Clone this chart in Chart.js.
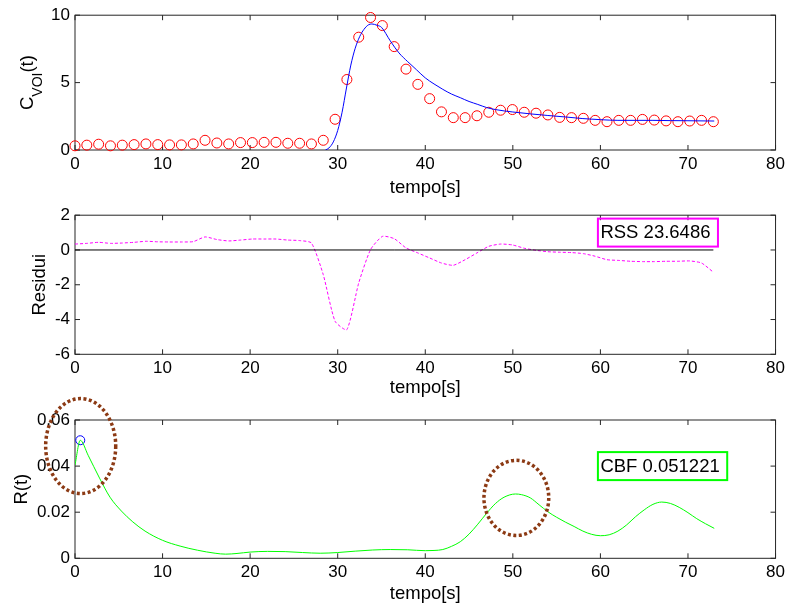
<!DOCTYPE html>
<html>
<head>
<meta charset="utf-8">
<title>CBF - ajuste e resíduos</title>
<script src="https://cdn.jsdelivr.net/npm/chart.js@4/dist/chart.umd.min.js"></script>
<style>
  body { margin: 0; background: #fff; }
  canvas { position: absolute; left: 0; }
</style>
</head>
<body>
<canvas id="g-cvoi" width="789" height="200" style="top:0"></canvas>
<canvas id="g-res" width="789" height="200" style="top:200px"></canvas>
<!-- começa antes do fim do painel 2: a elipse do pico passa acima da caixa -->
<canvas id="g-r" width="789" height="224" style="top:385px"></canvas>
<script>
/* Três painéis empilhados: curva C_VOI(t), resíduos do ajuste e R(t). */

// Instantes de amostragem (s)
const tAmostras = [0, 1.35, 2.7, 4.05, 5.4, 6.75, 8.1, 9.45, 10.8, 12.15, 13.5, 14.85, 16.2, 17.55,
  18.9, 20.25, 21.6, 22.95, 24.3, 25.65, 27.0, 28.35, 29.7, 31.05, 32.4, 33.75, 35.1, 36.45, 37.8,
  39.15, 40.5, 41.85, 43.2, 44.55, 45.9, 47.25, 48.6, 49.95, 51.3, 52.65, 54.0, 55.35, 56.7, 58.05,
  59.4, 60.75, 62.1, 63.45, 64.8, 66.15, 67.5, 68.85, 70.2, 71.55, 72.9];
// C_VOI medido (círculos vermelhos)
const cvoi = [0.31, 0.36, 0.43, 0.31, 0.36, 0.40, 0.45, 0.40, 0.38, 0.38, 0.45, 0.72, 0.52, 0.45,
  0.55, 0.55, 0.57, 0.57, 0.50, 0.50, 0.45, 0.72, 2.28, 5.23, 8.37, 9.83, 9.23, 7.67, 6.00,
  4.87, 3.81, 2.83, 2.40, 2.40, 2.54, 2.80, 2.95, 3.00, 2.80, 2.73, 2.60, 2.42, 2.40, 2.35,
  2.20, 2.10, 2.20, 2.20, 2.27, 2.22, 2.16, 2.10, 2.15, 2.20, 2.10];
// Curva ajustada (linha azul)
const fitT = [28.6, 29.0, 29.5, 30.0, 30.5, 31.0, 31.5, 32.0, 32.5, 33.0, 33.5, 33.9, 34.5, 35.0,
  36.0, 37.0, 38.0, 39.0, 40.0, 41.0, 42.0, 43.0, 44.0, 45.0, 46.0, 47.0, 48.0, 50.0, 52.0, 54.0,
  56.0, 58.0, 60.0, 62.0, 64.0, 66.0, 68.0, 70.0, 73.0];
const fitY = [0, 0.15, 0.6, 1.45, 2.8, 4.6, 6.3, 7.55, 8.4, 8.95, 9.28, 9.35, 9.25, 9.1,
  8.1, 7.2, 6.55, 5.95, 5.35, 4.9, 4.5, 4.15, 3.88, 3.6, 3.38, 3.15, 3.0, 2.82, 2.68, 2.56,
  2.45, 2.33, 2.25, 2.2, 2.2, 2.2, 2.18, 2.17, 2.15];
// Resíduos (tracejado magenta), nos mesmos instantes
const residui = [0.34, 0.38, 0.44, 0.38, 0.40, 0.44, 0.50, 0.47, 0.46, 0.46, 0.48, 0.75, 0.60, 0.52,
  0.57, 0.63, 0.63, 0.63, 0.57, 0.54, 0.40, -1.42, -4.10, -4.58, -1.90, 0.02, 0.78, 0.65, 0.12,
  -0.17, -0.46, -0.75, -0.88, -0.56, -0.17, 0.21, 0.34, 0.29, 0.10, -0.02, -0.10, -0.13, -0.15, -0.21,
  -0.36, -0.56, -0.60, -0.65, -0.67, -0.67, -0.65, -0.65, -0.63, -0.75, -1.28];
const zeroT = [0, 72.9];
const zeroY = [0, 0];
// R(t) (linha verde)
const rT = [0, 0.6, 1.5, 2.8, 4, 5.3, 6.6, 8, 10, 12, 14, 16, 17.2, 18.5, 20, 22, 24, 26, 28, 30,
  32, 34, 36, 38, 40, 41, 42, 43, 44, 45, 46, 47, 48, 49, 50.3, 51, 52, 53, 54, 55, 56, 57, 58, 59,
  60, 61, 62, 63, 64, 65, 66, 67, 68, 69, 70, 71, 72, 73];
const rY = [0.0405, 0.0512, 0.0447, 0.0348, 0.0265, 0.0205, 0.0158, 0.0118, 0.0078, 0.0053, 0.0035,
  0.0022, 0.0018, 0.0021, 0.0027, 0.003, 0.0029, 0.0025, 0.0022, 0.0025, 0.0031, 0.0036, 0.0038,
  0.0037, 0.0033, 0.0034, 0.0038, 0.0052, 0.0072, 0.0105, 0.0148, 0.0195, 0.0237, 0.0265, 0.0279,
  0.0276, 0.0262, 0.0232, 0.0202, 0.0178, 0.0157, 0.0138, 0.0118, 0.0104, 0.0098, 0.0102, 0.0118,
  0.0145, 0.018, 0.021, 0.0234, 0.0244, 0.0238, 0.0221, 0.0198, 0.0172, 0.015, 0.013];
// Pico de R(t) marcado com círculo azul
const picoT = [0.6];
const picoY = [0.051221];

// Marcas dos eixos
const xTicks = [0, 10, 20, 30, 40, 50, 60, 70, 80];
const yTicksCvoi = [0, 5, 10];
const yTicksRes = [-6, -4, -2, 0, 2];
const yTicksR = [0, 0.02, 0.04, 0.06];

const FONTE = "'Liberation Sans', Arial, Helvetica, sans-serif";

function pts(xs, ys) {
  return xs.map((v, i) => ({ x: v, y: ys[i] }));
}

// Caixa estilo MATLAB: moldura + marcas para dentro nos quatro lados
const moldura = {
  id: 'moldura',
  beforeDatasetsDraw(chart) {
    const { ctx, chartArea: a, scales: { x, y } } = chart;
    ctx.save();
    ctx.strokeStyle = '#262626';
    ctx.lineWidth = 1;
    ctx.strokeRect(a.left, a.top, a.right - a.left, a.bottom - a.top);
    ctx.beginPath();
    x.ticks.forEach(t => {
      const px = x.getPixelForValue(t.value);
      ctx.moveTo(px, a.bottom); ctx.lineTo(px, a.bottom - 5);
      ctx.moveTo(px, a.top); ctx.lineTo(px, a.top + 5);
    });
    y.ticks.forEach(t => {
      const py = y.getPixelForValue(t.value);
      ctx.moveTo(a.left, py); ctx.lineTo(a.left + 5, py);
      ctx.moveTo(a.right, py); ctx.lineTo(a.right - 5, py);
    });
    ctx.stroke();
    ctx.restore();
  },
};

// Rótulo vertical do eixo y, com pedaços em tamanhos/deslocamentos diferentes (subscrito)
function rotuloY(baseX, partes) {
  return {
    id: 'rotuloY',
    afterDraw(chart) {
      const { ctx, chartArea: a } = chart;
      ctx.save();
      ctx.translate(baseX, (a.top + a.bottom) / 2);
      ctx.rotate(-Math.PI / 2);
      const larg = partes.map(p => { ctx.font = `${p.tam}px ${FONTE}`; return ctx.measureText(p.txt).width; });
      let cx = -larg.reduce((s, w) => s + w, 0) / 2;
      ctx.fillStyle = '#000';
      ctx.textBaseline = 'alphabetic';
      partes.forEach((p, i) => {
        ctx.font = `${p.tam}px ${FONTE}`;
        ctx.fillText(p.txt, cx, p.desl || 0);
        cx += larg[i];
      });
      ctx.restore();
    },
  };
}

// Texto com moldura colorida (RSS / CBF) e elipses pontilhadas
function anotacoes(caixa, elipses) {
  return {
    id: 'anotacoes',
    afterDraw(chart) {
      const { ctx, scales: { x, y } } = chart;
      ctx.save();
      (elipses || []).forEach(e => {
        const cx = x.getPixelForValue(e.x), cy = y.getPixelForValue(e.y);
        const rx = x.getPixelForValue(e.x + e.rx) - cx;
        const ry = cy - y.getPixelForValue(e.y + e.ry);
        ctx.beginPath();
        ctx.ellipse(cx, cy, rx, ry, 0, 0, Math.PI * 2);
        ctx.strokeStyle = '#8c3a14';
        ctx.lineWidth = 3.5;
        ctx.setLineDash([3, 2.5]);
        ctx.stroke();
      });
      ctx.setLineDash([]);
      if (caixa) {
        ctx.font = `18.5px ${FONTE}`;
        const w = ctx.measureText(caixa.texto).width;
        const px = x.getPixelForValue(caixa.x), py = y.getPixelForValue(caixa.y);
        ctx.strokeStyle = caixa.cor;
        ctx.lineWidth = 2;
        ctx.strokeRect(px - 2.5, py - 14, w + 10, 28);
        ctx.fillStyle = '#000';
        ctx.textBaseline = 'middle';
        ctx.fillText(caixa.texto, px, py + 0.5);
      }
      ctx.restore();
    },
  };
}

function eixos(cfg) {
  const fonteTick = { family: FONTE, size: 17 };
  return {
    x: {
      type: 'linear', min: 0, max: 80,
      afterBuildTicks: s => { s.ticks = xTicks.map(v => ({ value: v })); },
      afterFit: s => { s.height = cfg.altX; },
      grid: { display: false, drawTicks: false },
      border: { display: false },
      ticks: { font: fonteTick, color: '#000', padding: 4, maxRotation: 0, autoSkip: false, callback: v => String(v) },
      title: {
        display: true, text: 'tempo[s]', color: '#000',
        font: { family: FONTE, size: 18.5 },
        padding: { top: 0, bottom: cfg.padTitulo },
      },
    },
    y: {
      type: 'linear', min: cfg.yMin, max: cfg.yMax,
      afterBuildTicks: s => { s.ticks = cfg.yTicks.map(v => ({ value: v })); },
      afterFit: s => { s.width = 75; },
      grid: { display: false, drawTicks: false },
      border: { display: false },
      ticks: { font: fonteTick, color: '#000', padding: 5, callback: v => String(v) },
    },
  };
}

function opcoes(cfg) {
  return {
    responsive: false,
    animation: false,
    events: [],
    layout: { padding: { top: cfg.topo, right: 11.5, bottom: 0, left: 0 } },
    plugins: { legend: { display: false }, tooltip: { enabled: false } },
    scales: eixos(cfg),
  };
}

// Painel 1: C_VOI(t)
new Chart(document.getElementById('g-cvoi'), {
  type: 'line',
  data: {
    datasets: [
      {
        data: pts(fitT, fitY), borderColor: '#0000ff', borderWidth: 1,
        pointRadius: 0, cubicInterpolationMode: 'monotone',
      },
      {
        data: pts(tAmostras, cvoi), showLine: false, clip: false,
        pointRadius: 5, pointBorderWidth: 1,
        pointBorderColor: '#ff0000', pointBackgroundColor: 'rgba(0,0,0,0)',
      },
    ],
  },
  options: opcoes({ topo: 11, altX: 50, padTitulo: 1.4, yMin: 0, yMax: 10, yTicks: yTicksCvoi }),
  plugins: [moldura, rotuloY(33.3, [
    { txt: 'C', tam: 18.5 },
    { txt: 'VOI', tam: 14, desl: 8.5 },
    { txt: '(t)', tam: 18.5 },
  ])],
});

// Painel 2: resíduos
new Chart(document.getElementById('g-res'), {
  type: 'line',
  data: {
    datasets: [
      { data: pts(zeroT, zeroY), borderColor: '#000', borderWidth: 1, pointRadius: 0 },
      {
        data: pts(tAmostras, residui), borderColor: '#ff00ff', borderWidth: 1,
        borderDash: [3, 2], pointRadius: 0, tension: 0.2,
      },
    ],
  },
  options: opcoes({ topo: 15, altX: 45.7, padTitulo: 1.4, yMin: -6, yMax: 2, yTicks: yTicksRes }),
  plugins: [moldura, rotuloY(45, [{ txt: 'Residui', tam: 18.5 }]),
    anotacoes({ x: 60, y: 1, texto: 'RSS 23.6486', cor: '#ff00ff' })],
});

// Painel 3: R(t)
new Chart(document.getElementById('g-r'), {
  type: 'line',
  data: {
    datasets: [
      {
        data: pts(rT, rY), borderColor: '#00ff00', borderWidth: 1,
        pointRadius: 0, cubicInterpolationMode: 'monotone',
      },
      {
        data: pts(picoT, picoY), showLine: false, clip: false,
        pointRadius: 4.5, pointBorderWidth: 1,
        pointBorderColor: '#0000ff', pointBackgroundColor: 'rgba(0,0,0,0)',
      },
    ],
  },
  options: opcoes({ topo: 35, altX: 50.7, padTitulo: 3.7, yMin: 0, yMax: 0.06, yTicks: yTicksR }),
  plugins: [moldura, rotuloY(26.7, [{ txt: 'R(t)', tam: 18.5 }]),
    anotacoes({ x: 60, y: 0.04, texto: 'CBF 0.051221', cor: '#00ff00' }, [
      { x: 0.65, y: 0.0487, rx: 4.0, ry: 0.0206 },
      { x: 50.4, y: 0.0262, rx: 3.7, ry: 0.0163 },
    ])],
});
</script>
</body>
</html>
